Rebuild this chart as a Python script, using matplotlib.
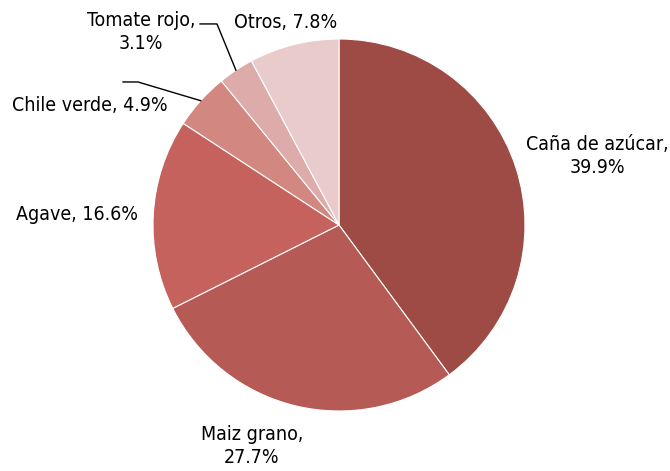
import numpy as np
import matplotlib
matplotlib.use('Agg')
import matplotlib.pyplot as plt

labels = ['Caña de azúcar,\n39.9%', 'Maiz grano,\n27.7%', 'Agave, 16.6%',
          'Chile verde, 4.9%', 'Tomate rojo,\n3.1%', 'Otros, 7.8%']
shares = [39.9, 27.7, 16.6, 4.9, 3.1, 7.8]
colors = ['#9e4a45', '#b55a54', '#c6625d', '#d38781', '#ddaba9', '#e9cbcc']

# label positions in pie-radius units
label_pos = [(1.387, 0.371), (-0.468, -1.188), (-1.409, 0.059),
             (-1.339, 0.645), (-1.065, 1.038), (-0.285, 1.091)]

plt.rcParams['font.family'] = ['DejaVu Sans']
plt.rcParams['font.stretch'] = 'condensed'

fig = plt.figure(figsize=(6.70, 4.71), dpi=100)
ax = fig.add_axes([153 / 670, 60 / 471, 372 / 670, 372 / 471])

wedges, _ = ax.pie(shares, colors=colors, startangle=90, counterclock=False,
                   radius=1, wedgeprops=dict(edgecolor='white', linewidth=0.8))

for w, lab, (x, y) in zip(wedges, labels, label_pos):
    ax.text(x, y, lab, ha='center', va='center', fontsize=14,
            fontstretch='condensed', linespacing=1.25, color='black')

# leader lines for the small slices
for w, (x0, x1, yl) in zip([wedges[3], wedges[4]],
                           [(-1.161, -1.081, 0.769), (-0.747, -0.656, 1.081)]):
    mid = np.deg2rad((w.theta1 + w.theta2) / 2)
    ax.plot([x0, x1, np.cos(mid)], [yl, yl, np.sin(mid)], color='black',
            lw=1.0, clip_on=False)

ax.set_xlim(-1, 1)
ax.set_ylim(-1, 1)
ax.set_aspect('equal')
ax.axis('off')

fig.savefig('out.png', dpi=100)
